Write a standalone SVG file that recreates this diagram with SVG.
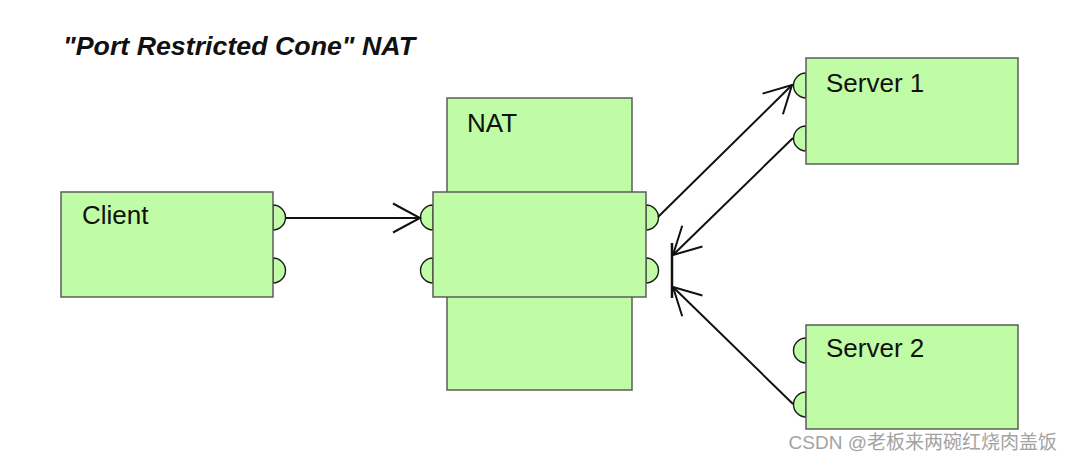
<svg xmlns="http://www.w3.org/2000/svg" width="1073" height="462" viewBox="0 0 1073 462">
<style>
.box{fill:#c0fca5;stroke:#5c5c5c;stroke-width:1.5}
.port{fill:#c0fca5;stroke:#1a1a1a;stroke-width:1.4}
.lbl{font-family:"Liberation Sans",Arial,sans-serif;font-size:26px;fill:#111}
.conn{fill:none;stroke:#111;stroke-width:2}
</style>
<defs>
<marker id="arr" markerUnits="userSpaceOnUse" orient="auto" overflow="visible" markerWidth="1" markerHeight="1">
<path d="M-27,-14.5 L0,0 L-27,14.5" fill="none" stroke="#111" stroke-width="2"/>
</marker>
</defs>
<rect width="1073" height="462" fill="#fff"/>
<text x="63" y="55" font-family="Liberation Sans,Arial,sans-serif" font-size="25" font-weight="bold" font-style="italic" fill="#111" textLength="352" lengthAdjust="spacingAndGlyphs">"Port Restricted Cone" NAT</text>

<g id="client">
<path class="port" d="M273,205 A12.5,12.5 0 0 1 273,230 Z"/>
<path class="port" d="M273,258 A12.5,12.5 0 0 1 273,283 Z"/>
<rect class="box" x="61" y="192" width="212" height="105"/>
<text class="lbl" x="82" y="224">Client</text>
</g>

<g id="nat">
<rect class="box" x="447" y="98" width="185" height="292"/>
<text class="lbl" x="467" y="132">NAT</text>
<path class="port" d="M433,205 A12.5,12.5 0 0 0 433,230 Z"/>
<path class="port" d="M433,258 A12.5,12.5 0 0 0 433,283 Z"/>
<path class="port" d="M646,205 A12.5,12.5 0 0 1 646,230 Z"/>
<path class="port" d="M646,258 A12.5,12.5 0 0 1 646,283 Z"/>
<rect class="box" x="433" y="192" width="213" height="105"/>
</g>

<g id="server1">
<path class="port" d="M806,73 A12.5,12.5 0 0 0 806,98 Z"/>
<path class="port" d="M806,126 A12.5,12.5 0 0 0 806,151 Z"/>
<rect class="box" x="806" y="58" width="212" height="106"/>
<text class="lbl" x="826" y="92">Server 1</text>
</g>

<g id="server2">
<path class="port" d="M806,338 A12.5,12.5 0 0 0 806,363 Z"/>
<path class="port" d="M806,392 A12.5,12.5 0 0 0 806,417 Z"/>
<rect class="box" x="806" y="325" width="212" height="104"/>
<text class="lbl" x="826" y="357">Server 2</text>
</g>

<g id="connectors">
<line class="conn" x1="286" y1="218" x2="420" y2="218" marker-end="url(#arr)"/>
<line class="conn" x1="658" y1="217" x2="792" y2="85" marker-end="url(#arr)"/>
<line class="conn" x1="793" y1="138" x2="673" y2="255" marker-end="url(#arr)"/>
<line class="conn" x1="793" y1="404" x2="673" y2="287" marker-end="url(#arr)"/>
<line x1="672" y1="243" x2="672" y2="298" stroke="#111" stroke-width="2.5"/>
</g>

<text x="1057" y="449" text-anchor="end" font-family="Liberation Sans,'Noto Sans CJK SC',sans-serif" font-size="19" fill="#a3a3a3">CSDN @老板来两碗红烧肉盖饭</text>
</svg>
